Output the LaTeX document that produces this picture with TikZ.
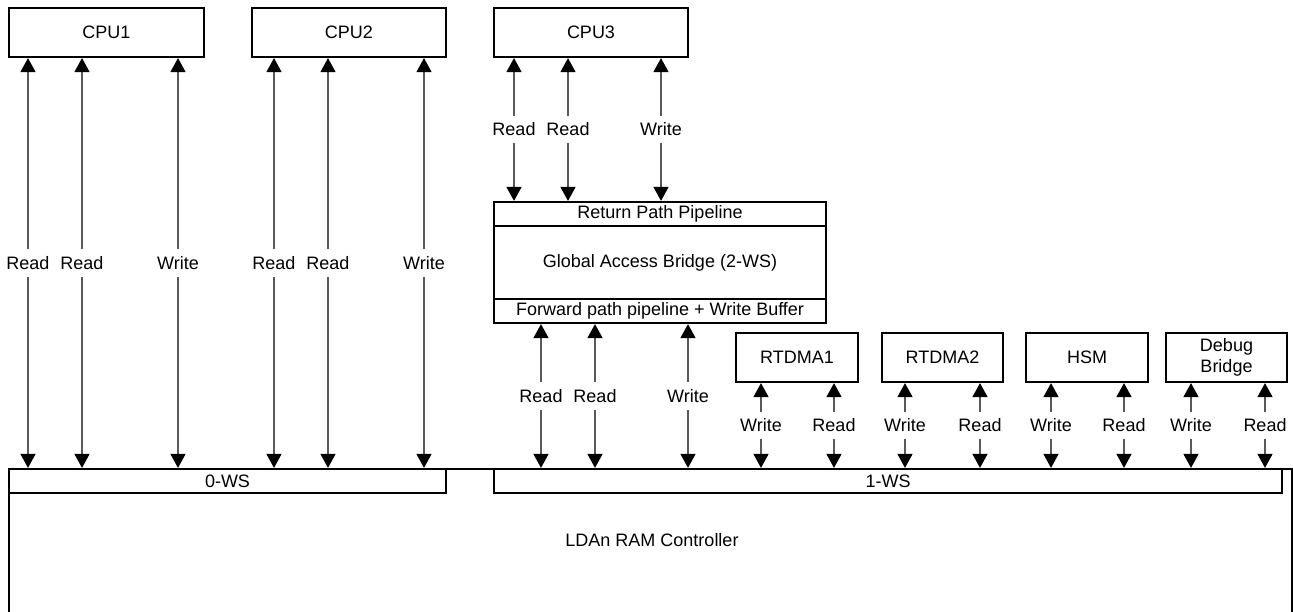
\documentclass[tikz,border=0pt]{standalone}
\usepackage{fontspec}
\setmainfont{Liberation Sans}
\usetikzlibrary{arrows.meta}
\begin{document}
\begin{tikzpicture}[x=1pt,y=-1pt,
  box/.style={draw=black, line width=2.2pt, fill=white, inner sep=0pt, align=center,
    font=\fontsize{18}{20}\selectfont},
  tip/.style={Triangle[width=15pt,length=14pt,fill=black,color=black]},
  arr/.style={draw=black!65, line width=1.3pt, {Triangle[width=15pt,length=14pt,fill=black,color=black]}-{Triangle[width=15pt,length=14pt,fill=black,color=black]}},
  lbl/.style={fill=white, inner xsep=1pt, inner ysep=7pt, font=\fontsize{18}{20}\selectfont},
  txt/.style={inner sep=0pt, font=\fontsize{18}{20}\selectfont}]
\useasboundingbox (0,0) rectangle (1293,612);
\begin{scope}
\clip (0,0) rectangle (1293,612);
\node[draw=black, line width=2.2pt, minimum width=1283pt, minimum height=231pt, inner sep=0pt] (ctrl) at (650.5,584.5) {};
\end{scope}
\node[txt] (ctrllbl) at (652,540) {LDAn RAM Controller};

% processors
\node[box, minimum width=195pt, minimum height=49pt] (cpu1) at (106.5,32.5) {CPU1};
\node[box, minimum width=194pt, minimum height=49pt] (cpu2) at (349,32.5) {CPU2};
\node[box, minimum width=194pt, minimum height=49pt] (cpu3) at (591,32.5) {CPU3};

% global access bridge
\node[box, minimum width=332pt, minimum height=121pt] (gab) at (660,262.5) {Global Access Bridge (2-WS)};
\node[box, minimum width=332pt, minimum height=24pt] (rpp) at (660,214) {Return Path Pipeline};
\node[box, minimum width=332pt, minimum height=24pt] (fpp) at (660,311) {Forward path pipeline + Write Buffer};

% masters
\node[box, minimum width=122pt, minimum height=49pt] (rt1) at (797,357.5) {RTDMA1};
\node[box, minimum width=121pt, minimum height=49pt] (rt2) at (942.5,357.5) {RTDMA2};
\node[box, minimum width=122pt, minimum height=49pt] (hsm) at (1087,357.5) {HSM};
\node[box, minimum width=121pt, minimum height=49pt, font=\fontsize{18}{21}\selectfont] (dbg) at (1226.5,357.5) {Debug\\Bridge};

% wait-state ports
\node[box, minimum width=437pt, minimum height=24pt] (ws0) at (227.5,481) {0-WS};
\node[box, minimum width=788pt, minimum height=24pt] (ws1) at (888,481) {1-WS};

% CPU1
\draw[arr] (cpu1.south -| 28,0) -- node[lbl]{Read} (ws0.north -| 28,0);
\draw[arr] (cpu1.south -| 82,0) -- node[lbl]{Read} (ws0.north -| 82,0);
\draw[arr] (cpu1.south -| 178,0) -- node[lbl]{Write} (ws0.north -| 178,0);
% CPU2
\draw[arr] (cpu2.south -| 274,0) -- node[lbl]{Read} (ws0.north -| 274,0);
\draw[arr] (cpu2.south -| 328,0) -- node[lbl]{Read} (ws0.north -| 328,0);
\draw[arr] (cpu2.south -| 424,0) -- node[lbl]{Write} (ws0.north -| 424,0);
% CPU3
\draw[arr] (cpu3.south -| 514,0) -- node[lbl]{Read} (rpp.north -| 514,0);
\draw[arr] (cpu3.south -| 568,0) -- node[lbl]{Read} (rpp.north -| 568,0);
\draw[arr] (cpu3.south -| 661,0) -- node[lbl]{Write} (rpp.north -| 661,0);
% GAB to 1-WS
\draw[arr] (fpp.south -| 541,0) -- node[lbl]{Read} (ws1.north -| 541,0);
\draw[arr] (fpp.south -| 595,0) -- node[lbl]{Read} (ws1.north -| 595,0);
\draw[arr] (fpp.south -| 688,0) -- node[lbl]{Write} (ws1.north -| 688,0);
% masters to 1-WS
\draw[arr] (rt1.south -| 761,0) -- node[lbl]{Write} (ws1.north -| 761,0);
\draw[arr] (rt1.south -| 834,0) -- node[lbl]{Read} (ws1.north -| 834,0);
\draw[arr] (rt2.south -| 905,0) -- node[lbl]{Write} (ws1.north -| 905,0);
\draw[arr] (rt2.south -| 980,0) -- node[lbl]{Read} (ws1.north -| 980,0);
\draw[arr] (hsm.south -| 1051,0) -- node[lbl]{Write} (ws1.north -| 1051,0);
\draw[arr] (hsm.south -| 1124,0) -- node[lbl]{Read} (ws1.north -| 1124,0);
\draw[arr] (dbg.south -| 1191,0) -- node[lbl]{Write} (ws1.north -| 1191,0);
\draw[arr] (dbg.south -| 1265,0) -- node[lbl]{Read} (ws1.north -| 1265,0);
\end{tikzpicture}
\end{document}
